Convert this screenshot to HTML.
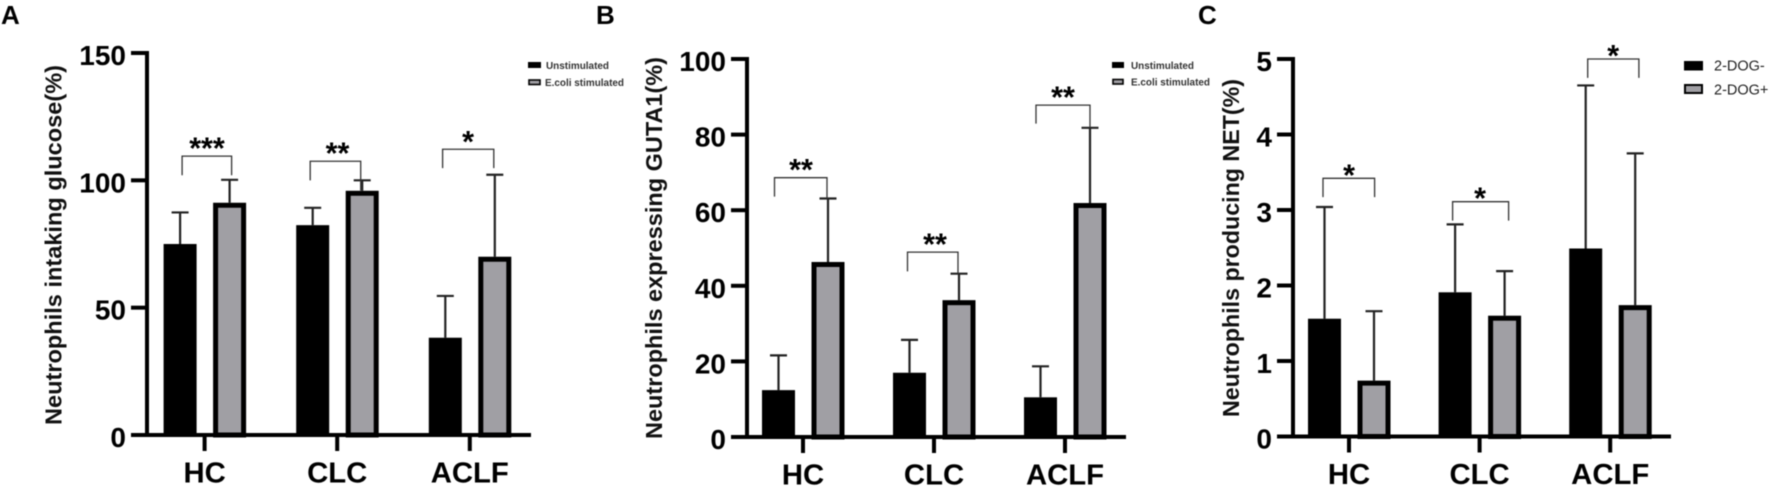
<!DOCTYPE html>
<html lang="en">
<head>
<meta charset="utf-8">
<title>Neutrophil bar charts</title>
<style>
  html, body { margin: 0; padding: 0; background: #fff; }
  svg { display: block; filter: blur(0.4px); }
  text { font-family: "Liberation Sans", Arial, sans-serif; fill: #0c0c0c; }
  .panel-letter { font-size: 26px; font-weight: 700; fill: #000; }
  .y-title { font-size: 23.5px; font-weight: 700; fill: #111; }
  .tick-label { font-size: 28px; font-weight: 700; fill: #000; }
  .category-label { font-size: 29px; font-weight: 700; fill: #000; }
  .legend-small { font-size: 10.5px; font-weight: 700; fill: #333; }
  .legend-large { font-size: 14.5px; fill: #222; }
  .star { font-size: 30.5px; font-weight: 700; text-anchor: middle; fill: #000; }
</style>
</head>
<body>
<svg id="figure" xmlns="http://www.w3.org/2000/svg" width="1772" height="488" viewBox="0 0 1772 488">
  <rect x="0" y="0" width="1772" height="488" fill="#fff"/>

  <text class="panel-letter" x="1" y="24">A</text>
  <text class="panel-letter" x="596" y="24">B</text>
  <text class="panel-letter" x="1198" y="24">C</text>

  <text class="y-title" transform="translate(61.5,425) rotate(-90)" textLength="360" lengthAdjust="spacingAndGlyphs">Neutrophils intaking glucose(%)</text>
  <text class="y-title" transform="translate(662,439) rotate(-90)" textLength="382" lengthAdjust="spacingAndGlyphs">Neutrophils expressing GUTA1(%)</text>
  <text class="y-title" transform="translate(1239,417) rotate(-90)" textLength="338" lengthAdjust="spacingAndGlyphs">Neutrophils producing NET(%)</text>

  <g id="chart-a"></g>
  <g id="chart-b"></g>
  <g id="chart-c"></g>

  <g>
    <g>
      <rect x="528" y="62" width="13" height="6" fill="#000"/>
      <text class="legend-small" x="546" y="69" textLength="63" lengthAdjust="spacingAndGlyphs">Unstimulated</text>
    </g>
    <g>
      <rect x="529" y="80" width="11" height="4.5" fill="#a09fa4" stroke="#000" stroke-width="1.6"/>
      <text class="legend-small" x="545" y="86" textLength="79" lengthAdjust="spacingAndGlyphs">E.coli stimulated</text>
    </g>
  </g>

  <g>
    <g>
      <rect x="1112" y="62" width="12" height="6" fill="#000"/>
      <text class="legend-small" x="1131" y="69" textLength="63" lengthAdjust="spacingAndGlyphs">Unstimulated</text>
    </g>
    <g>
      <rect x="1113" y="79.5" width="10" height="4.5" fill="#a09fa4" stroke="#000" stroke-width="1.6"/>
      <text class="legend-small" x="1131" y="85.5" textLength="79" lengthAdjust="spacingAndGlyphs">E.coli stimulated</text>
    </g>
  </g>

  <g>
    <g>
      <rect x="1684" y="61" width="19" height="9.5" fill="#000"/>
      <text class="legend-large" x="1714" y="70.5">2-DOG-</text>
    </g>
    <g>
      <rect x="1685" y="85" width="17" height="8" fill="#a09fa4" stroke="#000" stroke-width="2"/>
      <text class="legend-large" x="1714" y="94.5">2-DOG+</text>
    </g>
  </g>
</svg>

<script>
const categories = ["HC", "CLC", "ACLF"];

const ticksA = [0, 50, 100, 150];
const blackA = [75, 82.4, 38.2];
const grayA = [91.2, 95.9, 70];
const blackTopA = [87.4, 89.2, 54.6];
const grayTopA = [100.2, 100, 102.2];
const bracketTopA = [109.5, 107.5, 112.2];
const bracketLeftA = [102, 100, 104.8];
const bracketRightA = [102, 96, 104.8];
const starsA = ["***", "**", "*"];

const ticksB = [0, 20, 40, 60, 80, 100];
const blackB = [12.4, 17, 10.5];
const grayB = [46.3, 36.2, 61.9];
const blackTopB = [21.6, 25.7, 18.7];
const grayTopB = [63.1, 43.2, 81.8];
const bracketTopB = [68.6, 48.9, 87.8];
const bracketLeftB = [63.6, 43.8, 82.9];
const bracketRightB = [63.1, 43.2, 81.8];
const starsB = ["**", "**", "**"];

const ticksC = [0, 1, 2, 3, 4, 5];
const blackC = [1.56, 1.91, 2.49];
const grayC = [0.74, 1.6, 1.74];
const blackTopC = [3.04, 2.81, 4.65];
const grayTopC = [1.66, 2.19, 3.75];
const bracketTopC = [3.42, 3.11, 5];
const bracketLeftC = [3.17, 2.86, 4.75];
const bracketRightC = [3.17, 2.86, 4.75];
const starsC = ["*", "*", "*"];

const SVG_NS = "http://www.w3.org/2000/svg";

function node(parent, tag, props) {
  const el = document.createElementNS(SVG_NS, tag);
  for (const key in props) el.setAttribute(key, props[key]);
  parent.appendChild(el);
  return el;
}

function drawChart(id, geo, ticks, black, gray, blackTop, grayTop, bracketTop, bracketLeft, bracketRight, stars) {
  const root = document.getElementById(id);
  const yMax = ticks[ticks.length - 1];
  const yPos = function (v) { return geo.y0 - (v / yMax) * (geo.y0 - geo.yTop); };
  const xPos = function (i) { return geo.x0 + i * geo.step; };
  const barW = 33;

  categories.forEach(function (cat, i) {
    const cx = xPos(i);
    const bc = cx - 24.5;
    const gc = cx + 25;

    const errBlack = node(root, "path", { d: "M" + bc + " " + yPos(black[i]) + "V" + yPos(blackTop[i]) + "M" + (bc - 8.5) + " " + yPos(blackTop[i]) + "H" + (bc + 8.5), stroke: "#222", "stroke-width": 2.2, fill: "none" });
    
    

    const errGray = node(root, "path", { d: "M" + gc + " " + yPos(gray[i]) + "V" + yPos(grayTop[i]) + "M" + (gc - 8.5) + " " + yPos(grayTop[i]) + "H" + (gc + 8.5), stroke: "#222", "stroke-width": 2.2, fill: "none" });
    
    

    const barBlack = node(root, "rect", { x: bc - barW / 2, y: yPos(black[i]), width: barW, height: geo.y0 - yPos(black[i]), fill: "#000" });
    
    

    const barGray = node(root, "rect", { x: gc - barW / 2 + 2.5, y: yPos(gray[i]) + 2.5, width: barW - 5, height: Math.max(0, geo.y0 - yPos(gray[i]) - 2.5), fill: "#a09fa4", stroke: "#000", "stroke-width": 5 });
    
    

    const lx = bc + geo.bracketLeftDx[i];
    const rx = gc + geo.bracketRightDx[i];
    const bracket = node(root, "path", { d: "M" + lx + " " + yPos(bracketLeft[i]) + "V" + yPos(bracketTop[i]) + "H" + rx + "V" + yPos(bracketRight[i]), stroke: "#333", "stroke-width": 1.3, fill: "none" });
    
    

    const star = node(root, "text", { class: "star", x: cx + geo.starDx[i], y: yPos(bracketTop[i]) + geo.starDy });
    star.textContent = stars[i];
    
    

    const tick = node(root, "line", { x1: cx, x2: cx, y1: geo.y0, y2: geo.y0 + 16, stroke: "#000", "stroke-width": 4 });
    
    

    const label = node(root, "text", { class: "category-label", "text-anchor": "middle", transform: "translate(" + cx + "," + (geo.y0 + 47.5) + ") scale(1.01,1)" });
    label.textContent = cat;
    
    
  });

  ticks.forEach(function (t) {
    const y = yPos(t);
    const tick = node(root, "line", { x1: geo.xAxis - 16, x2: geo.xAxis, y1: y, y2: y, stroke: "#000", "stroke-width": 4 });
    
    

    const label = node(root, "text", { class: "tick-label", x: geo.xAxis - 21, y: y + 12, "text-anchor": "end" });
    label.textContent = String(t);
    
    
  });

  const yAxis = node(root, "line", { x1: geo.xAxis, x2: geo.xAxis, y1: geo.yTop - 2, y2: geo.y0 + 2, stroke: "#000", "stroke-width": 4 });
  
  

  const xAxis = node(root, "line", { x1: geo.xAxis, x2: geo.xEnd, y1: geo.y0, y2: geo.y0, stroke: "#000", "stroke-width": 4 });
  
  
}

drawChart("chart-a", { x0: 204.6, step: 132.6, xAxis: 147, xEnd: 531, y0: 435, yTop: 53, starDx: [2.4, 0.3, -1.8], starDy: 2.5, bracketLeftDx: [2, -2.5, -2.7], bracketRightDx: [2, -1.5, -1] },
  ticksA, blackA, grayA, blackTopA, grayTopA, bracketTopA, bracketLeftA, bracketRightA, starsA);
drawChart("chart-b", { x0: 803, step: 131, xAxis: 747, xEnd: 1126, y0: 437, yTop: 59, starDx: [-2, 1, -2], starDy: 2.5, bracketLeftDx: [-4, -2, -4.5], bracketRightDx: [-1, -1, 0] },
  ticksB, blackB, grayB, blackTopB, grayTopB, bracketTopB, bracketLeftB, bracketRightB, starsB);
drawChart("chart-c", { x0: 1349, step: 130.6, xAxis: 1293, xEnd: 1671, y0: 436.5, yTop: 59, starDx: [0, 0.5, 3], starDy: 7, bracketLeftDx: [-1.5, -2.5, 2], bracketRightDx: [0.6, 4, 3.7] },
  ticksC, blackC, grayC, blackTopC, grayTopC, bracketTopC, bracketLeftC, bracketRightC, starsC);
</script>
</body>
</html>
